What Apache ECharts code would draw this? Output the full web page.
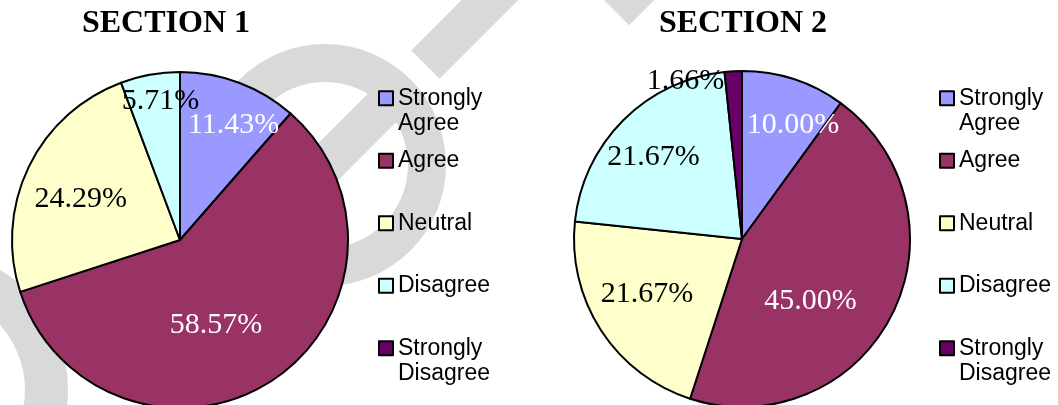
<!DOCTYPE html>
<html>
<head>
<meta charset="utf-8">
<script src="https://cdn.jsdelivr.net/npm/echarts/dist/echarts.min.js"></script>
<style>
  html, body { margin: 0; padding: 0; background: #fff; }
  #chart { width: 1058px; height: 405px; }
</style>
</head>
<body>
<div id="chart"></div>
<script>
// survey answers, share of students in percent
const categories = ['Strongly Agree', 'Agree', 'Neutral', 'Disagree', 'Strongly Disagree'];
const section1Values = [11.43, 58.57, 24.29, 5.71, 0];
const section2Values = [10.00, 45.00, 21.67, 21.67, 1.66];
const titles = ['SECTION 1', 'SECTION 2'];

// styles
const sliceColors = ['#9999ff', '#993366', '#ffffcc', '#ccffff', '#660066'];
const labelInk = ['#ffffff', '#ffffff', '#000000', '#000000', '#000000'];
// how far each label is pushed from the default "inside" point (excel best fit look)
const labelNudge1 = [[23, -33], [-12, 13], [-21, -3], [-4, -53], [0, 0]];
const labelNudge2 = [[24, -31], [-9, 23], [-22, 8], [-27, -20], [-52, -71]];

const serif = 'Liberation Serif, Times New Roman, serif';
const sans = 'Liberation Sans, Arial, sans-serif';
const grey = '#d9d9d9';

// a 45 degree stripe of the watermark, t0..t1 along its axis from (cx, cy)
function stripe(cx, cy, t0, t1, half) {
    const d = [Math.SQRT1_2, -Math.SQRT1_2];
    const n = [Math.SQRT1_2, Math.SQRT1_2];
    const at = (t, s) => [cx + t * d[0] + s * n[0], cy + t * d[1] + s * n[1]];
    return [at(t0, -half), at(t1, -half), at(t1, half), at(t0, half)];
}

function buildPie(values, center, nudges) {
    return {
        type: 'pie',
        center: center,
        radius: 168,
        startAngle: 90,
        clockwise: true,
        avoidLabelOverlap: false,
        silent: true,
        itemStyle: { borderColor: '#000', borderWidth: 2 },
        label: {
            show: true,
            position: 'inside',
            fontFamily: serif,
            fontSize: 30,
            textBorderWidth: 0,
            formatter: p => (p.value > 0 ? p.value.toFixed(2) + '%' : ''),
        },
        labelLine: { show: false },
        labelLayout: function (p) {
            const n = nudges[p.dataIndex];
            return {
                x: p.labelRect.x + p.labelRect.width / 2 + n[0],
                y: p.labelRect.y + p.labelRect.height / 2 + n[1],
            };
        },
        data: categories.map((name, i) => ({
            name: name,
            value: values[i],
            itemStyle: { color: sliceColors[i] },
            label: { color: labelInk[i] },
        })),
    };
}

function buildLegend(left) {
    return {
        orient: 'vertical',
        left: left,
        top: 60,
        padding: 0,
        itemGap: -14,
        itemWidth: 14,
        itemHeight: 14,
        icon: 'rect',
        selectedMode: false,
        itemStyle: { borderColor: '#000', borderWidth: 2 },
        textStyle: { fontFamily: sans, fontSize: 23, lineHeight: 25.5, color: '#000' },
        // every entry is three lines high so that the rows stay evenly spaced
        formatter: name => (name.indexOf(' ') > 0 ? '\n' + name.replace(' ', '\n') : '\n' + name + '\n'),
        data: categories,
    };
}

const chart = echarts.init(document.getElementById('chart'));
const options = {
    backgroundColor: '#fff',
    animation: false,
    title: titles.map((t, i) => ({
        text: t,
        left: [166, 743][i],
        top: 6,
        textAlign: 'center',
        padding: 0,
        textStyle: { fontFamily: serif, fontWeight: 'bold', fontSize: 32, lineHeight: 36, color: '#000' },
    })),
    legend: [buildLegend(378), buildLegend(939)],
    graphic: {
        elements: [
            { type: 'ring', silent: true, z: -10, shape: { cx: 325, cy: 165, r: 121, r0: 83 }, style: { fill: grey } },
            { type: 'polygon', silent: true, z: -10, shape: { points: stripe(325, 165, -121, 110, 20) }, style: { fill: grey } },
            { type: 'polygon', silent: true, z: -10, shape: { points: stripe(325, 165, 142, 420, 20) }, style: { fill: grey } },
            { type: 'ring', silent: true, z: -10, shape: { cx: -72, cy: 390, r: 140, r0: 97 }, style: { fill: grey } },
            { type: 'polygon', silent: true, z: -10, shape: { points: stripe(615, 11, 0, 80, 20) }, style: { fill: grey } },
        ],
    },
    series: [
        buildPie(section1Values, [180, 240], labelNudge1),
        buildPie(section2Values, [742, 239], labelNudge2),
    ],
};
chart.setOption(options);
</script>
</body>
</html>
